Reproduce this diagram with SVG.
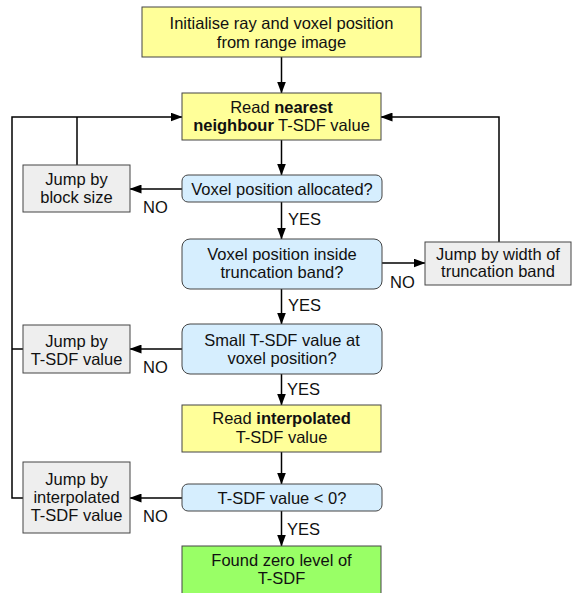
<svg xmlns="http://www.w3.org/2000/svg" width="572" height="593" viewBox="0 0 572 593">
<defs>
<marker id="ah" markerWidth="12" markerHeight="9" refX="11.5" refY="4.5" orient="auto" markerUnits="userSpaceOnUse">
<path d="M0,0 L12,4.5 L0,9 z" fill="#000"/>
</marker>
<style>
text{font-family:"Liberation Sans",Arial,sans-serif;font-size:16.5px;fill:#111;text-anchor:middle}
.lbl{text-anchor:start}
.b{font-weight:bold}
.y{fill:#FFFF99;stroke:#444;stroke-width:1}
.bl{fill:#D6EEFE;stroke:#444;stroke-width:1}
.g{fill:#EEEEEE;stroke:#444;stroke-width:1}
.gr{fill:#99FF66;stroke:#444;stroke-width:1}
.c{fill:none;stroke:#000;stroke-width:1.5}
.a{marker-end:url(#ah)}
</style>
</defs>
<rect width="572" height="593" fill="#fff"/>
<g id="connectors">
<line class="c a" x1="281.5" y1="57" x2="281.5" y2="93"/>
<line class="c a" x1="281.5" y1="140" x2="281.5" y2="175"/>
<line class="c a" x1="281.5" y1="202" x2="281.5" y2="239"/>
<line class="c a" x1="281.5" y1="289" x2="281.5" y2="324"/>
<line class="c a" x1="281.5" y1="374" x2="281.5" y2="405"/>
<line class="c a" x1="281.5" y1="452" x2="281.5" y2="484"/>
<line class="c a" x1="281.5" y1="511" x2="281.5" y2="546"/>
<line class="c a" x1="182" y1="189" x2="130" y2="189"/>
<line class="c a" x1="182" y1="349" x2="130" y2="349"/>
<line class="c a" x1="182" y1="498" x2="130" y2="498"/>
<line class="c a" x1="382" y1="263" x2="425" y2="263"/>
<polyline class="c" points="77,165 77,117"/>
<polyline class="c a" points="23,498 12,498 12,117 182,117"/>
<line class="c" x1="23" y1="349" x2="12" y2="349"/>
<polyline class="c a" points="499,242 499,117 381,117"/>
<text class="lbl" x="288" y="225">YES</text>
<text class="lbl" x="288" y="311">YES</text>
<text class="lbl" x="287" y="395">YES</text>
<text class="lbl" x="287" y="535">YES</text>
<text class="lbl" x="143" y="213">NO</text>
<text class="lbl" x="143" y="373">NO</text>
<text class="lbl" x="143" y="522">NO</text>
<text class="lbl" x="390" y="288">NO</text>
</g>
<g id="init">
<rect class="y" x="142" y="7" width="279" height="50"/>
<text x="281.5" y="29">Initialise ray and voxel position</text>
<text x="281.5" y="48">from range image</text>
</g>
<g id="read-nearest">
<rect class="y" x="182" y="93" width="199" height="47"/>
<text x="281.5" y="113">Read <tspan class="b">nearest</tspan></text>
<text x="281.5" y="131"><tspan class="b">neighbour</tspan> T-SDF value</text>
</g>
<g id="allocated">
<rect class="bl" x="182" y="175" width="200" height="27" rx="6"/>
<text x="282" y="195">Voxel position allocated?</text>
</g>
<g id="inside-band">
<rect class="bl" x="182" y="239" width="200" height="50" rx="8"/>
<text x="282" y="260">Voxel position inside</text>
<text x="282" y="278">truncation band?</text>
</g>
<g id="small-tsdf">
<rect class="bl" x="182" y="324" width="200" height="50" rx="8"/>
<text x="282" y="346">Small T-SDF value at</text>
<text x="282" y="364">voxel position?</text>
</g>
<g id="read-interp">
<rect class="y" x="182" y="405" width="199" height="47"/>
<text x="281.5" y="424">Read <tspan class="b">interpolated</tspan></text>
<text x="281.5" y="443">T-SDF value</text>
</g>
<g id="negative">
<rect class="bl" x="182" y="484" width="200" height="27" rx="6"/>
<text x="282" y="504">T-SDF value &lt; 0?</text>
</g>
<g id="found">
<rect class="gr" x="182" y="546" width="199" height="60"/>
<text x="281.5" y="566">Found zero level of</text>
<text x="281.5" y="584">T-SDF</text>
</g>
<g id="jump-block">
<rect class="g" x="23" y="165" width="107" height="47"/>
<text x="76.5" y="185">Jump by</text>
<text x="76.5" y="203">block size</text>
</g>
<g id="jump-tsdf">
<rect class="g" x="23" y="325" width="107" height="48"/>
<text x="76.5" y="347">Jump by</text>
<text x="76.5" y="365">T-SDF value</text>
</g>
<g id="jump-interp">
<rect class="g" x="23" y="462" width="107" height="71"/>
<text x="76.5" y="485">Jump by</text>
<text x="76.5" y="503">interpolated</text>
<text x="76.5" y="521">T-SDF value</text>
</g>
<g id="jump-width">
<rect class="g" x="425" y="242" width="146" height="43"/>
<text x="498" y="260">Jump by width of</text>
<text x="498" y="277">truncation band</text>
</g>
</svg>
